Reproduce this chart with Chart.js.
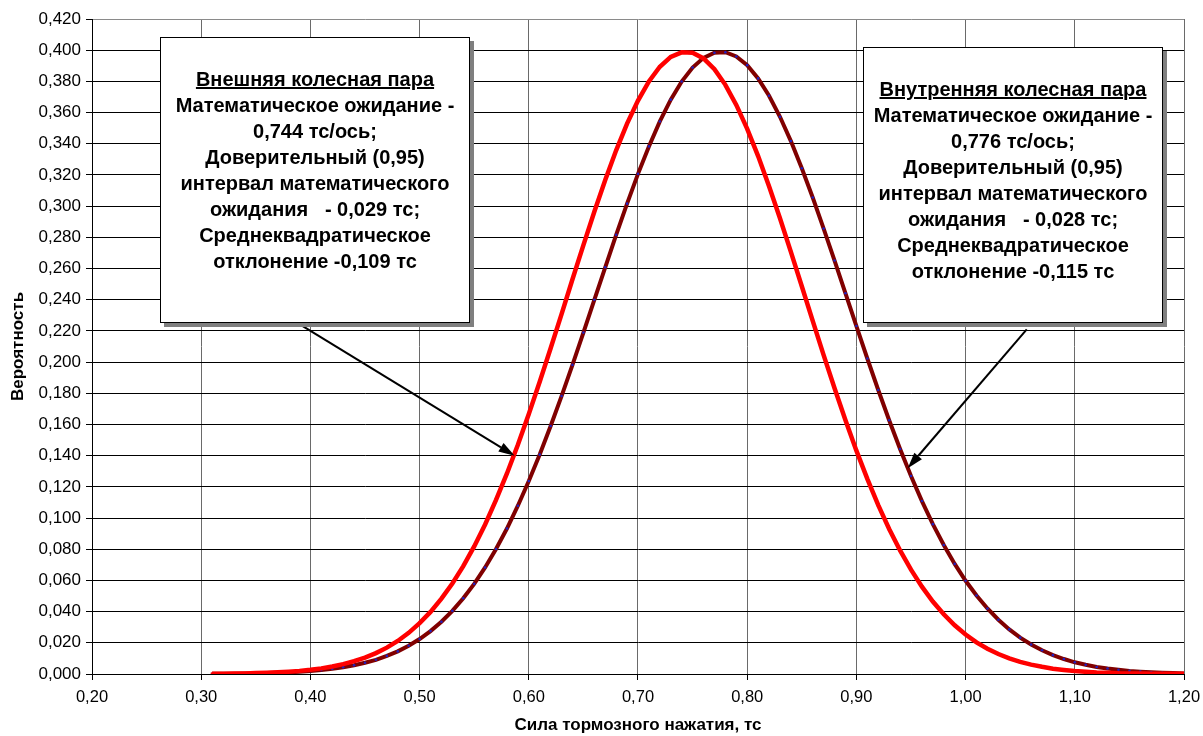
<!DOCTYPE html>
<html>
<head>
<meta charset="utf-8">
<script src="https://cdn.jsdelivr.net/npm/chart.js@4/dist/chart.umd.min.js"></script>
<style>
    body { margin: 0; background: #fff; }
    #wrap { position: relative; width: 1203px; height: 736px; }
    .note {
        position: absolute;
        background: #fff;
        border: 1px solid #000;
        box-shadow: 4px 4px 0 #7f7f7f;
        box-sizing: border-box;
        font: bold 20px "Liberation Sans", Arial, sans-serif;
        line-height: 26px;
        text-align: center;
        padding-top: 28px;
        color: #000;
        white-space: nowrap;
    }
    .note u { text-decoration: underline; }
</style>
</head>
<body>
<div id="wrap">
    <canvas id="chart" width="1203" height="736"></canvas>
    <div class="note" style="left:160px; top:37px; width:310px; height:286px;">
        <u>Внешняя колесная пара</u><br>
        Математическое ожидание -<br>
        0,744 тс/ось;<br>
        Доверительный (0,95)<br>
        интервал математического<br>
        ожидания &nbsp;&nbsp;- 0,029 тс;<br>
        Среднеквадратическое<br>
        отклонение -0,109 тс
    </div>
    <div class="note" style="left:863px; top:47px; width:300px; height:276px;">
        <u>Внутренняя колесная пара</u><br>
        Математическое ожидание -<br>
        0,776 тс/ось;<br>
        Доверительный (0,95)<br>
        интервал математического<br>
        ожидания &nbsp;&nbsp;- 0,028 тс;<br>
        Среднеквадратическое<br>
        отклонение -0,115 тс
    </div>
</div>
<script>
    // сила тормозного нажатия, тс
    const xValues = [
        0.31, 0.32, 0.33, 0.34, 0.35, 0.36, 0.37, 0.38, 0.39, 0.40,
        0.41, 0.42, 0.43, 0.44, 0.45, 0.46, 0.47, 0.48, 0.49, 0.50,
        0.51, 0.52, 0.53, 0.54, 0.55, 0.56, 0.57, 0.58, 0.59, 0.60,
        0.61, 0.62, 0.63, 0.64, 0.65, 0.66, 0.67, 0.68, 0.69, 0.70,
        0.71, 0.72, 0.73, 0.74, 0.75, 0.76, 0.77, 0.78, 0.79, 0.80,
        0.81, 0.82, 0.83, 0.84, 0.85, 0.86, 0.87, 0.88, 0.89, 0.90,
        0.91, 0.92, 0.93, 0.94, 0.95, 0.96, 0.97, 0.98, 0.99, 1.00,
        1.01, 1.02, 1.03, 1.04, 1.05, 1.06, 1.07, 1.08, 1.09, 1.10,
        1.11, 1.12, 1.13, 1.14, 1.15, 1.16, 1.17, 1.18, 1.19, 1.20
    ];

    // внешняя колесная пара
    const outerValues = [
        0.0001, 0.0002, 0.0003, 0.0004, 0.0006, 0.0008, 0.0011, 0.0015, 0.0020, 0.0027,
        0.0036, 0.0048, 0.0063, 0.0082, 0.0105, 0.0134, 0.0169, 0.0212, 0.0264, 0.0326,
        0.0398, 0.0483, 0.0580, 0.0692, 0.0818, 0.0959, 0.1116, 0.1286, 0.1470, 0.1667,
        0.1874, 0.2089, 0.2308, 0.2531, 0.2750, 0.2964, 0.3168, 0.3358, 0.3529, 0.3677,
        0.3800, 0.3894, 0.3957, 0.3986, 0.3983, 0.3947, 0.3878, 0.3778, 0.3649, 0.3496,
        0.3321, 0.3128, 0.2922, 0.2707, 0.2486, 0.2264, 0.2045, 0.1832, 0.1627, 0.1432,
        0.1251, 0.1083, 0.0930, 0.0792, 0.0669, 0.0560, 0.0465, 0.0383, 0.0312, 0.0253,
        0.0203, 0.0162, 0.0128, 0.0100, 0.0078, 0.0060, 0.0046, 0.0034, 0.0026, 0.0019,
        0.0014, 0.0010, 0.0008, 0.0005, 0.0004, 0.0003, 0.0002, 0.0001, 0.0001, 0.0001
    ];

    // внутренняя колесная пара
    const innerValues = [
        0.0001, 0.0002, 0.0002, 0.0003, 0.0004, 0.0006, 0.0008, 0.0011, 0.0014, 0.0019,
        0.0025, 0.0033, 0.0043, 0.0056, 0.0072, 0.0091, 0.0116, 0.0145, 0.0181, 0.0224,
        0.0275, 0.0335, 0.0405, 0.0486, 0.0578, 0.0683, 0.0802, 0.0933, 0.1079, 0.1237,
        0.1407, 0.1590, 0.1782, 0.1982, 0.2189, 0.2399, 0.2608, 0.2816, 0.3016, 0.3207,
        0.3383, 0.3543, 0.3683, 0.3799, 0.3889, 0.3951, 0.3984, 0.3987, 0.3960, 0.3904,
        0.3819, 0.3708, 0.3573, 0.3417, 0.3243, 0.3055, 0.2856, 0.2651, 0.2441, 0.2231,
        0.2023, 0.1821, 0.1627, 0.1443, 0.1270, 0.1109, 0.0961, 0.0827, 0.0706, 0.0598,
        0.0503, 0.0420, 0.0348, 0.0286, 0.0233, 0.0189, 0.0152, 0.0121, 0.0096, 0.0075,
        0.0059, 0.0045, 0.0035, 0.0027, 0.0020, 0.0015, 0.0011, 0.0008, 0.0006, 0.0004
    ];

    // стрелки от выносок к кривым (в единицах осей)
    const callouts = [
        { from: [0.372, 0.232], to: [0.587, 0.140] },
        { from: [1.056, 0.221], to: [0.947, 0.132] }
    ];

    const fontFamily = '"Liberation Sans", Arial, sans-serif';
    const comma = (v, d) => v.toFixed(d).replace('.', ',');

    const arrowPlugin = {
        id: 'arrows',
        afterDatasetsDraw(chart) {
            const { ctx, scales: { x, y } } = chart;
            ctx.save();
            ctx.strokeStyle = '#000';
            ctx.fillStyle = '#000';
            ctx.lineWidth = 2;
            callouts.forEach(c => {
                const x1 = x.getPixelForValue(c.from[0]), y1 = y.getPixelForValue(c.from[1]);
                const x2 = x.getPixelForValue(c.to[0]), y2 = y.getPixelForValue(c.to[1]);
                const a = Math.atan2(y2 - y1, x2 - x1);
                const len = 16, half = 5;
                const bx = x2 - len * Math.cos(a), by = y2 - len * Math.sin(a);
                ctx.beginPath();
                ctx.moveTo(x1, y1);
                ctx.lineTo(bx, by);
                ctx.stroke();
                ctx.beginPath();
                ctx.moveTo(x2, y2);
                ctx.lineTo(bx + half * Math.sin(a), by - half * Math.cos(a));
                ctx.lineTo(bx - half * Math.sin(a), by + half * Math.cos(a));
                ctx.closePath();
                ctx.fill();
            });
            ctx.restore();
        }
    };

    new Chart(document.getElementById('chart').getContext('2d'), {
        type: 'line',
        data: {
            datasets: [
                {
                    label: 'Внешняя колесная пара',
                    data: xValues.map((v, i) => ({ x: v, y: outerValues[i] })),
                    borderColor: '#ff0000',
                    borderWidth: 4.5,
                    pointRadius: 2,
                    pointStyle: 'rect',
                    pointBackgroundColor: '#ff0000',
                    pointBorderWidth: 0,
                    tension: 0
                },
                {
                    label: 'Внутренняя колесная пара',
                    data: xValues.map((v, i) => ({ x: v, y: innerValues[i] })),
                    borderColor: '#800000',
                    borderWidth: 4,
                    pointRadius: 1.3,
                    pointBackgroundColor: '#2020c0',
                    pointBorderWidth: 0,
                    tension: 0
                }
            ]
        },
        options: {
            responsive: false,
            animation: false,
            layout: { padding: { left: 0, right: 19, top: 19, bottom: 0 } },
            plugins: {
                legend: { display: false },
                tooltip: { enabled: false }
            },
            scales: {
                x: {
                    type: 'linear',
                    min: 0.2,
                    max: 1.2,
                    afterFit: s => { s.height = 62; s.paddingRight = 0; s.paddingLeft = 0; },
                    ticks: {
                        stepSize: 0.1,
                        color: '#000',
                        padding: 8,
                        font: { family: fontFamily, size: 16.5 },
                        callback: v => comma(v, 2)
                    },
                    grid: {
                        color: '#6a6a6a',
                        tickLength: 6,
                        tickColor: '#000'
                    },
                    border: { color: '#000', width: 1 },
                    title: {
                        display: true,
                        text: 'Сила тормозного нажатия, тс',
                        color: '#000',
                        padding: { top: 0, bottom: 0 },
                        font: { family: fontFamily, size: 17, weight: 'bold' }
                    }
                },
                y: {
                    min: 0,
                    max: 0.42,
                    afterFit: s => { s.width = 92; s.paddingTop = 0; s.paddingBottom = 0; },
                    ticks: {
                        stepSize: 0.02,
                        color: '#000',
                        padding: 5,
                        font: { family: fontFamily, size: 17 },
                        callback: v => comma(v, 3)
                    },
                    grid: {
                        color: ctx => (ctx.tick && ctx.tick.value > 0.419 ? '#8a8a8a' : '#000'),
                        tickLength: 6,
                        tickColor: '#000'
                    },
                    border: { color: '#000', width: 1 },
                    title: {
                        display: true,
                        text: 'Вероятность',
                        color: '#000',
                        padding: { top: 8, bottom: 0 },
                        font: { family: fontFamily, size: 17, weight: 'bold' }
                    }
                }
            }
        },
        plugins: [arrowPlugin]
    });
</script>
</body>
</html>
